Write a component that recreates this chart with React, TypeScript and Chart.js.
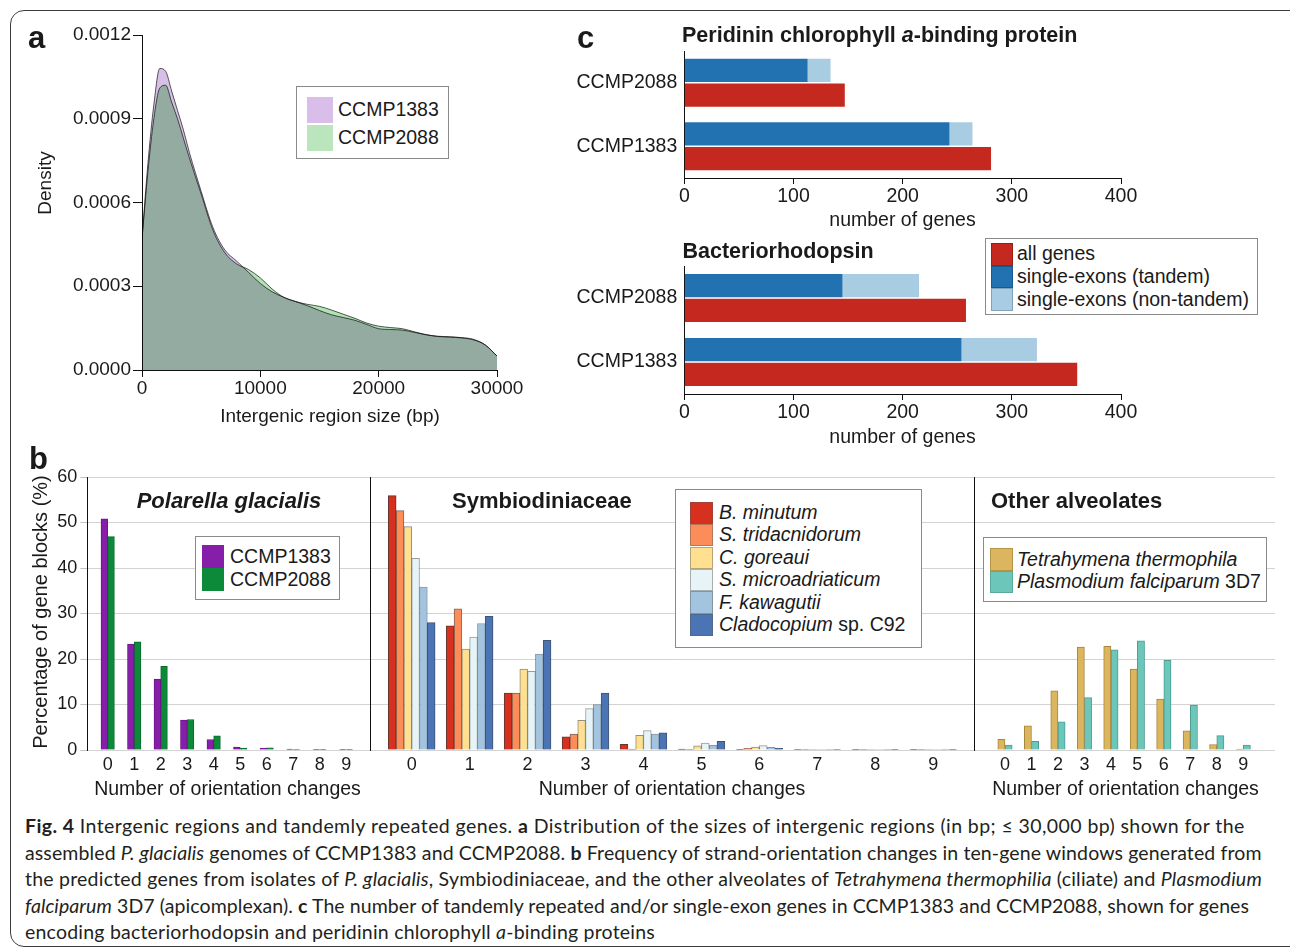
import React, { useEffect, useRef } from "react";
import { Chart, registerables } from "chart.js";

Chart.register(...registerables);

const SANS = "'Liberation Sans', Arial, Helvetica, sans-serif";
const CAPTION = "Lato, 'Open Sans', sans-serif";
const INK = "#1a1a1a";

// ---------------- Panel a : density of intergenic region sizes ----------------
const intergenicSizeBp = [
  0, 500, 1000, 1500, 2000, 2500, 3000, 3500, 4000,
  5000, 6000, 7000, 8000, 9000, 10000,
  11000, 12000, 13000, 14000, 15000,
  16000, 17000, 18000, 19000, 20000,
  21000, 22000, 23000, 24000, 25000,
  26000, 27000, 28000, 29000, 30000,
];
const densityCCMP1383 = [
  0.00047, 0.00074, 0.00095, 0.00108, 0.00107, 0.001, 0.00093, 0.00086, 0.00078,
  0.00064, 0.00051, 0.00043, 0.00039, 0.00035, 0.00031,
  0.00028, 0.00026, 0.000245, 0.00023, 0.000213,
  0.000198, 0.000188, 0.000178, 0.000163, 0.000148,
  0.000145, 0.000143, 0.000135, 0.000126, 0.000121,
  0.000119, 0.000116, 0.00011, 0.00009, 0.00005,
];
const densityCCMP2088 = [
  0.00047, 0.00071, 0.0009, 0.00101, 0.00102, 0.00096, 0.0009, 0.00083, 0.00076,
  0.00063, 0.0005, 0.00042, 0.00038, 0.00036, 0.00033,
  0.00029, 0.00026, 0.000245, 0.000235, 0.000228,
  0.000215, 0.0002, 0.000185, 0.000168, 0.000157,
  0.000152, 0.000148, 0.000137, 0.000127, 0.00012,
  0.000118, 0.000115, 0.000108, 0.00009, 0.00005,
];
const densityTicks = [0, 0.0003, 0.0006, 0.0009, 0.0012];
const sizeTicks = [0, 10000, 20000, 30000];

// ---------------- Panel b : orientation changes ----------------
const orientationChanges = [0, 1, 2, 3, 4, 5, 6, 7, 8, 9];
const percentTicks = [0, 10, 20, 30, 40, 50, 60];
const polarellaCCMP1383 = [50.8, 23.3, 15.6, 6.6, 2.3, 0.66, 0.44, 0.2, 0.08, 0.06];
const polarellaCCMP2088 = [46.9, 23.8, 18.4, 6.7, 3.1, 0.44, 0.5, 0.1, 0.08, 0.06];
const bMinutum = [55.9, 27.3, 12.5, 2.9, 1.25, 0.2, 0.15, 0.1, 0.05, 0.05];
const sTridacnidorum = [52.6, 31.0, 12.5, 3.5, 0.2, 0.07, 0.37, 0.1, 0.05, 0.05];
const cGoreaui = [49.1, 22.2, 17.8, 6.5, 3.2, 0.9, 0.66, 0.1, 0.05, 0.05];
const sMicroadriaticum = [42.1, 24.8, 17.3, 9.1, 4.25, 1.5, 0.95, 0.1, 0.05, 0.05];
const fKawagutii = [35.8, 27.8, 21.1, 10.0, 3.5, 1.0, 0.6, 0.1, 0.05, 0.05];
const cladocopiumC92 = [28.0, 29.4, 24.1, 12.5, 3.8, 1.9, 0.37, 0.1, 0.05, 0.05];
const tetrahymenaThermophila = [2.35, 5.3, 13.0, 22.6, 22.8, 17.8, 11.2, 4.2, 1.2, 0.2];
const plasmodiumFalciparum = [1.1, 1.9, 6.2, 11.5, 22.0, 24.0, 19.7, 9.9, 3.15, 1.1];

// ---------------- Panel c : gene counts ----------------
const strains = ["CCMP2088", "CCMP1383"];
const geneTicks = [0, 100, 200, 300, 400];
const pcpAllGenes = [147, 281];
const pcpTandem = [113, 243];
const pcpNonTandem = [21, 21];
const brAllGenes = [258, 360];
const brTandem = [145, 254];
const brNonTandem = [70, 69];

// ---------------- colours ----------------
const PURPLE_FILL = "rgb(214,192,229)";
const GREEN_FILL = "rgb(177,228,181)";
const PG_PURPLE = "#871eaa";
const PG_GREEN = "#0c8a3a";
const SYM_COLORS = ["#d7301f", "#fc8d59", "#fee090", "#e6f4f8", "#a3c4df", "#4a74b4"];
const TET = "#dcb65e";
const PLA = "#6cc6b9";
const C_RED = "#c4281e";
const C_BLUE = "#2272b2";
const C_LIGHT = "#a8cce2";

const common = {
  responsive: false,
  animation: false as const,
  events: [] as any[],
  plugins: { legend: { display: false }, tooltip: { enabled: false }, title: { display: false } },
};

const multiplyPlugin = {
  id: "multiplyFill",
  beforeDatasetsDraw(chart: any) {
    chart.ctx.save();
    chart.ctx.globalCompositeOperation = "multiply";
  },
  afterDatasetsDraw(chart: any) {
    chart.ctx.restore();
  },
};

function buildDensity(): any {
  const pts = (ys: number[]) => intergenicSizeBp.map((x, i) => ({ x, y: ys[i] }));
  return {
    type: "line",
    data: {
      datasets: [
        {
          label: "CCMP1383",
          data: pts(densityCCMP1383),
          fill: "origin",
          backgroundColor: PURPLE_FILL,
          borderColor: "#5a5a5a",
          borderWidth: 1,
          pointRadius: 0,
          cubicInterpolationMode: "monotone",
        },
        {
          label: "CCMP2088",
          data: pts(densityCCMP2088),
          fill: "origin",
          backgroundColor: GREEN_FILL,
          borderColor: "#5a5a5a",
          borderWidth: 1,
          pointRadius: 0,
          cubicInterpolationMode: "monotone",
        },
      ],
    },
    options: {
      ...common,
      layout: { padding: { left: 0, top: 15, right: 43, bottom: 0 } },
      scales: {
        x: {
          type: "linear",
          min: 0,
          max: 30000,
          afterBuildTicks: (s: any) => {
            s.ticks = sizeTicks.map((v) => ({ value: v }));
          },
          afterFit: (s: any) => {
            s.height = 70;
          },
          grid: { drawOnChartArea: false, drawTicks: true, tickLength: 7, tickColor: "#111", tickWidth: 1 },
          border: { display: true, color: "#111", width: 1 },
          ticks: {
            font: { family: SANS, size: 19 },
            color: INK,
            padding: 0,
            maxRotation: 0,
            autoSkip: false,
            callback: (v: any) => String(v),
          },
        },
        y: {
          type: "linear",
          min: 0,
          max: 0.0012,
          afterBuildTicks: (s: any) => {
            s.ticks = densityTicks.map((v) => ({ value: v }));
          },
          afterFit: (s: any) => {
            s.width = 122;
          },
          grid: { drawOnChartArea: false, drawTicks: true, tickLength: 9, tickColor: "#111", tickWidth: 1 },
          border: { display: true, color: "#111", width: 1 },
          ticks: {
            font: { family: SANS, size: 19 },
            color: INK,
            padding: 2,
            autoSkip: false,
            callback: (v: any) => Number(v).toFixed(4),
          },
        },
      },
    },
    plugins: [multiplyPlugin],
  };
}

type Series = { label: string; data: number[]; color: string; border: string };

function buildOrientation(
  series: Series[],
  o: { xMin: number; xMax: number; showY: boolean; padding: any; yWidth: number; barThickness: number }
): any {
  return {
    type: "bar",
    data: {
      datasets: series.map((s) => ({
        label: s.label,
        data: orientationChanges.map((c, i) => ({ x: c, y: s.data[i] })),
        backgroundColor: s.color,
        borderColor: s.border,
        borderWidth: 1,
        borderSkipped: "start",
        barThickness: o.barThickness,
      })),
    },
    options: {
      ...common,
      layout: { padding: o.padding },
      scales: {
        x: {
          type: "linear",
          min: o.xMin,
          max: o.xMax,
          offset: false,
          afterBuildTicks: (s: any) => {
            s.ticks = orientationChanges.map((v) => ({ value: v }));
          },
          afterFit: (s: any) => {
            s.height = 50;
          },
          grid: { display: false, drawTicks: false, offset: false },
          border: { display: false },
          ticks: {
            font: { family: SANS, size: 18 },
            color: INK,
            padding: 4,
            maxRotation: 0,
            autoSkip: false,
            callback: (v: any) => String(v),
          },
        },
        y: {
          type: "linear",
          min: 0,
          max: 60,
          afterBuildTicks: (s: any) => {
            s.ticks = percentTicks.map((v) => ({ value: v }));
          },
          afterFit: (s: any) => {
            s.width = o.yWidth;
          },
          grid: {
            color: "#d3d3d3",
            lineWidth: 1,
            drawTicks: o.showY,
            tickLength: 7,
            tickColor: "#c2c2c2",
          },
          border: { display: true, color: "#111", width: 1 },
          ticks: {
            display: o.showY,
            font: { family: SANS, size: 18 },
            color: INK,
            padding: 3,
          },
        },
      },
    },
  };
}

function buildGenes(
  all: number[],
  tandem: number[],
  nonTandem: number[],
  o: { padTop: number; xHeight: number }
): any {
  const bar = { barThickness: 24.7, borderColor: "#ffffff", borderWidth: { top: 1, bottom: 1, left: 0, right: 0 }, borderSkipped: false };
  return {
    type: "bar",
    data: {
      labels: strains,
      datasets: [
        { label: "single-exons (tandem)", data: tandem, backgroundColor: C_BLUE, stack: "singleExons", ...bar },
        { label: "single-exons (non-tandem)", data: nonTandem, backgroundColor: C_LIGHT, stack: "singleExons", ...bar },
        { label: "all genes", data: all, backgroundColor: C_RED, stack: "all", ...bar },
      ],
    },
    options: {
      ...common,
      indexAxis: "y",
      layout: { padding: { left: 0, top: o.padTop, right: 39, bottom: 0 } },
      scales: {
        x: {
          type: "linear",
          min: 0,
          max: 400,
          afterBuildTicks: (s: any) => {
            s.ticks = geneTicks.map((v) => ({ value: v }));
          },
          afterFit: (s: any) => {
            s.height = o.xHeight;
          },
          grid: { drawOnChartArea: false, drawTicks: true, tickLength: 6, tickColor: "#111" },
          border: { display: true, color: "#111", width: 1 },
          ticks: {
            font: { family: SANS, size: 19.5 },
            color: INK,
            padding: 1,
            maxRotation: 0,
            autoSkip: false,
          },
        },
        y: {
          type: "category",
          afterFit: (s: any) => {
            s.width = 124.3;
            s.paddingTop = 0;
            s.paddingBottom = 0;
          },
          grid: { display: false, drawTicks: false },
          border: { display: true, color: "#111", width: 1 },
          ticks: { font: { family: SANS, size: 19.5 }, color: INK, padding: 7 },
        },
      },
    },
  };
}

function ChartCanvas({ left, top, width, height, build }: { left: number; top: number; width: number; height: number; build: () => any }) {
  const ref = useRef<HTMLCanvasElement | null>(null);
  useEffect(() => {
    if (!ref.current) return;
    const chart = new Chart(ref.current, build());
    return () => chart.destroy();
  }, []);
  return (
    <canvas
      ref={ref}
      width={width}
      height={height}
      style={{ position: "absolute", left, top, width, height }}
    />
  );
}

function Txt({
  x,
  y,
  size,
  children,
  bold,
  italic,
  anchor = "start",
  rotate,
  font = SANS,
  color = INK,
}: {
  x: number;
  y: number;
  size: number;
  children: React.ReactNode;
  bold?: boolean;
  italic?: boolean;
  anchor?: "start" | "middle" | "end";
  rotate?: number;
  font?: string;
  color?: string;
}) {
  const tx = anchor === "middle" ? "-50%" : anchor === "end" ? "-100%" : "0";
  return (
    <div
      style={{
        position: "absolute",
        left: x,
        top: y,
        transform: `translate(${tx}, -50%)${rotate ? ` rotate(${rotate}deg)` : ""}`,
        fontFamily: font,
        fontSize: size,
        fontWeight: bold ? 700 : 400,
        fontStyle: italic ? "italic" : "normal",
        lineHeight: 1,
        whiteSpace: "nowrap",
        color,
      }}
    >
      {children}
    </div>
  );
}

function Box({ x, y, w, h, color, border }: { x: number; y: number; w: number; h: number; color: string; border?: string }) {
  return (
    <div
      style={{
        position: "absolute",
        left: x,
        top: y,
        width: w,
        height: h,
        background: color,
        border: border ? `1px solid ${border}` : "none",
        boxSizing: "border-box",
      }}
    />
  );
}

function LegendFrame({ x, y, w, h }: { x: number; y: number; w: number; h: number }) {
  return (
    <div
      style={{
        position: "absolute",
        left: x,
        top: y,
        width: w,
        height: h,
        border: "1.5px solid #8a8a8a",
        boxSizing: "border-box",
        background: "#ffffff",
      }}
    />
  );
}

const symNames: React.ReactNode[] = [
  <i>B. minutum</i>,
  <i>S. tridacnidorum</i>,
  <i>C. goreaui</i>,
  <i>S. microadriaticum</i>,
  <i>F. kawagutii</i>,
  <>
    <i>Cladocopium</i> sp. C92
  </>,
];

// caption line layout: vertical centre and right edge of each line
const captionTops = [826, 852.5, 879, 905.5, 932];
const captionRightEdges = [1245, 1262, 1262, 1249, 655];

function Caption() {
  const refs = useRef<(HTMLDivElement | null)[]>([]);
  useEffect(() => {
    let alive = true;
    const fit = () => {
      if (!alive) return;
      refs.current.forEach((el, i) => {
        if (!el) return;
        el.style.letterSpacing = "0px";
        const w = el.getBoundingClientRect().width;
        const n = (el.textContent || "").length;
        const target = captionRightEdges[i] - 25;
        const ls = n > 0 ? (target - w) / n : 0;
        el.style.letterSpacing = `${ls.toFixed(3)}px`;
      });
    };
    fit();
    if ((document as any).fonts && (document as any).fonts.ready) {
      (document as any).fonts.ready.then(fit);
    }
    return () => {
      alive = false;
    };
  }, []);

  const lines: React.ReactNode[] = [
    <>
      <b>Fig. 4</b> Intergenic regions and tandemly repeated genes. <b>a</b> Distribution of the sizes of intergenic regions (in bp; ≤ 30,000 bp) shown for the
    </>,
    <>
      assembled <i>P. glacialis</i> genomes of CCMP1383 and CCMP2088. <b>b</b> Frequency of strand-orientation changes in ten-gene windows generated from
    </>,
    <>
      the predicted genes from isolates of <i>P. glacialis</i>, Symbiodiniaceae, and the other alveolates of <i>Tetrahymena thermophilia</i> (ciliate) and{" "}
      <i>Plasmodium</i>
    </>,
    <>
      <i>falciparum</i> 3D7 (apicomplexan). <b>c</b> The number of tandemly repeated and/or single-exon genes in CCMP1383 and CCMP2088, shown for genes
    </>,
    <>
      encoding bacteriorhodopsin and peridinin chlorophyll <i>a</i>-binding proteins
    </>,
  ];
  return (
    <>
      {lines.map((content, i) => (
        <div
          key={i}
          ref={(el) => {
            refs.current[i] = el;
          }}
          style={{
            position: "absolute",
            left: 25,
            top: captionTops[i],
            transform: "translateY(-50%)",
            fontFamily: CAPTION,
            fontSize: 19.5,
            lineHeight: 1,
            whiteSpace: "nowrap",
            color: "#231f20",
          }}
        >
          {content}
        </div>
      ))}
    </>
  );
}

export default function App() {
  const symSeries: Series[] = [
    { label: "B. minutum", data: bMinutum, color: SYM_COLORS[0], border: "rgba(70,20,10,0.85)" },
    { label: "S. tridacnidorum", data: sTridacnidorum, color: SYM_COLORS[1], border: "rgba(90,50,30,0.75)" },
    { label: "C. goreaui", data: cGoreaui, color: SYM_COLORS[2], border: "rgba(90,80,60,0.65)" },
    { label: "S. microadriaticum", data: sMicroadriaticum, color: SYM_COLORS[3], border: "rgba(80,90,100,0.6)" },
    { label: "F. kawagutii", data: fKawagutii, color: SYM_COLORS[4], border: "rgba(60,80,100,0.6)" },
    { label: "Cladocopium sp. C92", data: cladocopiumC92, color: SYM_COLORS[5], border: "rgba(20,40,80,0.8)" },
  ];

  return (
    <div
      style={{
        position: "fixed",
        left: 0,
        top: 0,
        width: 1290,
        height: 951,
        overflow: "hidden",
        background: "#ffffff",
        fontFamily: SANS,
      }}
    >
      {/* frame */}
      <div
        style={{
          position: "absolute",
          left: 10,
          top: 10,
          width: 1300,
          height: 937,
          border: "1.5px solid #3c3c3c",
          borderRadius: 14,
          boxSizing: "border-box",
        }}
      />

      {/* ---------- panel a ---------- */}
      <ChartCanvas left={20} top={20} width={520} height={420} build={buildDensity} />
      <div style={{ position: "absolute", left: 28, top: 22, fontSize: 31, fontWeight: 700, lineHeight: 1, color: INK }}>a</div>
      <Txt x={44} y={183} size={19} anchor="middle" rotate={-90}>
        Density
      </Txt>
      <Txt x={330} y={415} size={19} anchor="middle">
        Intergenic region size (bp)
      </Txt>
      <LegendFrame x={296} y={86} w={153} h={73} />
      <Box x={307} y={97} w={26} h={26} color="#d8bee8" />
      <Box x={307} y={125} w={26} h={26} color="#bbe5bd" />
      <Txt x={338} y={110} size={19.5}>
        CCMP1383
      </Txt>
      <Txt x={338} y={138} size={19.5}>
        CCMP2088
      </Txt>

      {/* ---------- panel c ---------- */}
      <ChartCanvas left={560} top={40} width={600} height={200} build={() => buildGenes(pcpAllGenes, pcpTandem, pcpNonTandem, { padTop: 11, xHeight: 62 })} />
      <ChartCanvas left={560} top={250} width={600} height={200} build={() => buildGenes(brAllGenes, brTandem, brNonTandem, { padTop: 16, xHeight: 56 })} />
      <div style={{ position: "absolute", left: 577, top: 22, fontSize: 31, fontWeight: 700, lineHeight: 1, color: INK }}>c</div>
      <Txt x={682} y={36} size={21.5} bold>
        Peridinin chlorophyll <i>a</i>-binding protein
      </Txt>
      <Txt x={902.5} y={220} size={19.5} anchor="middle">
        number of genes
      </Txt>
      <Txt x={682.5} y={251.7} size={21.5} bold>
        Bacteriorhodopsin
      </Txt>
      <Txt x={902.5} y={436.7} size={19.5} anchor="middle">
        number of genes
      </Txt>
      <LegendFrame x={985} y={238} w={273} h={77} />
      <Box x={990.6} y={243} w={22} h={22.7} color={C_RED} border="#9a1f17" />
      <Box x={990.6} y={265.7} w={22} h={22.6} color={C_BLUE} border="#1a5a8e" />
      <Box x={990.6} y={288.3} w={22} h={22.7} color={C_LIGHT} border="#7fa3bb" />
      <Txt x={1017} y={254.3} size={19.5}>
        all genes
      </Txt>
      <Txt x={1017} y={277} size={19.5}>
        single-exons (tandem)
      </Txt>
      <Txt x={1017} y={299.7} size={19.5}>
        single-exons (non-tandem)
      </Txt>

      {/* ---------- panel b ---------- */}
      <ChartCanvas
        left={20}
        top={460}
        width={352}
        height={340}
        build={() =>
          buildOrientation(
            [
              { label: "CCMP1383", data: polarellaCCMP1383, color: PG_PURPLE, border: "#6d1689" },
              { label: "CCMP2088", data: polarellaCCMP2088, color: PG_GREEN, border: "#086b2c" },
            ],
            { xMin: -0.77, xMax: 9.9, showY: true, padding: { left: 0, top: 17, right: 2, bottom: 0 }, yWidth: 67.3, barThickness: 6.7 }
          )
        }
      />
      <ChartCanvas
        left={368}
        top={460}
        width={610}
        height={340}
        build={() =>
          buildOrientation(symSeries, {
            xMin: -0.72,
            xMax: 9.71,
            showY: false,
            padding: { left: 2, top: 17, right: 3.7, bottom: 0 },
            yWidth: 0,
            barThickness: 7.8,
          })
        }
      />
      <ChartCanvas
        left={972}
        top={460}
        width={318}
        height={340}
        build={() =>
          buildOrientation(
            [
              { label: "Tetrahymena thermophila", data: tetrahymenaThermophila, color: TET, border: "#a6853c" },
              { label: "Plasmodium falciparum 3D7", data: plasmodiumFalciparum, color: PLA, border: "#4c9c92" },
            ],
            { xMin: -1.16, xMax: 10.2, showY: false, padding: { left: 2.3, top: 17, right: 15, bottom: 0 }, yWidth: 0, barThickness: 7.2 }
          )
        }
      />
      <div style={{ position: "absolute", left: 29, top: 443, fontSize: 31, fontWeight: 700, lineHeight: 1, color: INK }}>b</div>
      <Txt x={40} y={612} size={20} anchor="middle" rotate={-90}>
        Percentage of gene blocks (%)
      </Txt>
      <Txt x={229} y={501} size={22} bold italic anchor="middle">
        Polarella glacialis
      </Txt>
      <Txt x={452} y={501} size={22} bold>
        Symbiodiniaceae
      </Txt>
      <Txt x={991} y={501} size={22} bold>
        Other alveolates
      </Txt>
      <Txt x={227.5} y={789} size={19.5} anchor="middle">
        Number of orientation changes
      </Txt>
      <Txt x={672} y={789} size={19.5} anchor="middle">
        Number of orientation changes
      </Txt>
      <Txt x={1125.5} y={789} size={19.5} anchor="middle">
        Number of orientation changes
      </Txt>

      {/* legend Polarella */}
      <LegendFrame x={195} y={536} w={145} h={64} />
      <Box x={202} y={545} w={22} h={23} color={PG_PURPLE} />
      <Box x={202} y={568} w={22} h={23} color={PG_GREEN} />
      <Txt x={230} y={556.5} size={19.5}>
        CCMP1383
      </Txt>
      <Txt x={230} y={579.5} size={19.5}>
        CCMP2088
      </Txt>

      {/* legend Symbiodiniaceae */}
      <LegendFrame x={675} y={489} w={247} h={159} />
      {SYM_COLORS.map((c, i) => (
        <Box key={"s" + i} x={690} y={501.7 + i * 22.4} w={23} h={22.4} color={c} border="rgba(90,90,90,0.45)" />
      ))}
      {symNames.map((n, i) => (
        <Txt key={"t" + i} x={719} y={513 + i * 22.4} size={19.5}>
          {n}
        </Txt>
      ))}

      {/* legend Other alveolates */}
      <LegendFrame x={983} y={537} w={284} h={65} />
      <Box x={990} y={548.3} w={22.7} h={22.4} color={TET} border="#b59347" />
      <Box x={990} y={570.7} w={22.7} h={22.6} color={PLA} border="#58a99e" />
      <Txt x={1017} y={559.5} size={19.5}>
        <i>Tetrahymena thermophila</i>
      </Txt>
      <Txt x={1017} y={582} size={19.5}>
        <i>Plasmodium falciparum</i> 3D7
      </Txt>

      {/* ---------- caption ---------- */}
      <Caption />
    </div>
  );
}
